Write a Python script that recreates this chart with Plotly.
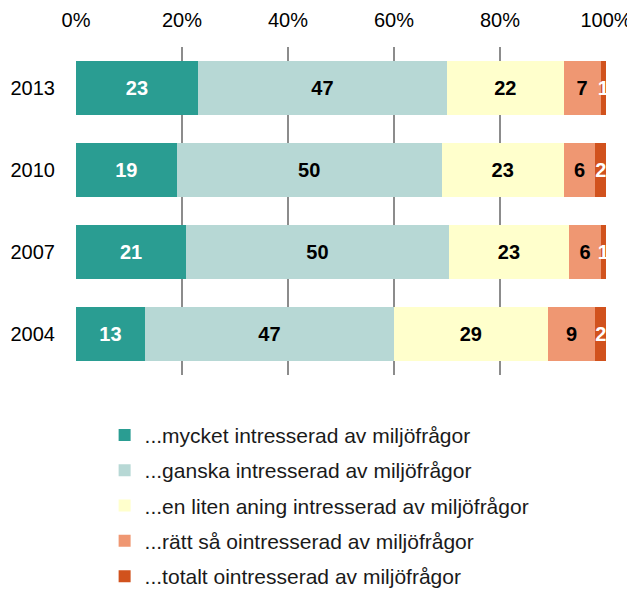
import plotly.graph_objects as go

years = ["2013", "2010", "2007", "2004"]
series_names = [
    "...mycket intresserad av miljöfrågor",
    "...ganska intresserad av miljöfrågor",
    "...en liten aning intresserad av miljöfrågor",
    "...rätt så ointresserad av miljöfrågor",
    "...totalt ointresserad av miljöfrågor",
]
mycket = [23, 19, 21, 13]
ganska = [47, 50, 50, 47]
liten = [22, 23, 23, 29]
ratt_sa = [7, 6, 6, 9]
totalt = [1, 2, 1, 2]
tick_vals = [0, 20, 40, 60, 80, 100]
tick_text = ["0%", "20%", "40%", "60%", "80%", "100%"]

values = [mycket, ganska, liten, ratt_sa, totalt]
colors = ["#2a9d92", "#b7d8d5", "#ffffcc", "#ef9772", "#d1521d"]
text_colors = ["white", "black", "black", "black", "white"]

fig = go.Figure()
for name, vals, col, tc in zip(series_names, values, colors, text_colors):
    fig.add_trace(go.Bar(
        y=years, x=vals, name=name, orientation="h",
        marker=dict(color=col, line=dict(width=0)),
        text=[str(v) for v in vals], textposition="inside",
        insidetextanchor="middle",
        textfont=dict(family="Liberation Sans", size=20, color=tc, weight="bold"),
        legendgroup=name,
    ))

fig.update_layout(
    width=635, height=590,
    barmode="stack", barnorm="percent", bargap=0.33,
    plot_bgcolor="white", paper_bgcolor="white",
    margin=dict(l=68, r=37, t=39, b=223, autoexpand=False),
    font=dict(family="Liberation Sans", size=20, color="black"),
    uniformtext=dict(minsize=20, mode="show"),
    showlegend=True,
    legend=dict(
        x=0.054, y=0.3105, xanchor="left", yanchor="top", yref="container",
        font=dict(size=21, color="#1a1a1a"),
        traceorder="grouped", tracegroupgap=5,
    ),
)
fig.update_xaxes(
    side="top", range=[0, 100], tickvals=tick_vals, ticktext=tick_text,
    showgrid=True, gridcolor="#8c8c8c", gridwidth=1.6,
    zeroline=False, showline=False, automargin=False,
    ticks="outside", ticklen=11, tickcolor="rgba(0,0,0,0)",
    tickfont=dict(size=20),
)
fig.update_yaxes(
    autorange="reversed", showgrid=False, showline=False, automargin=False,
    ticks="outside", ticklen=16, tickcolor="rgba(0,0,0,0)",
    tickfont=dict(size=20),
)
fig.write_html("out.html")
